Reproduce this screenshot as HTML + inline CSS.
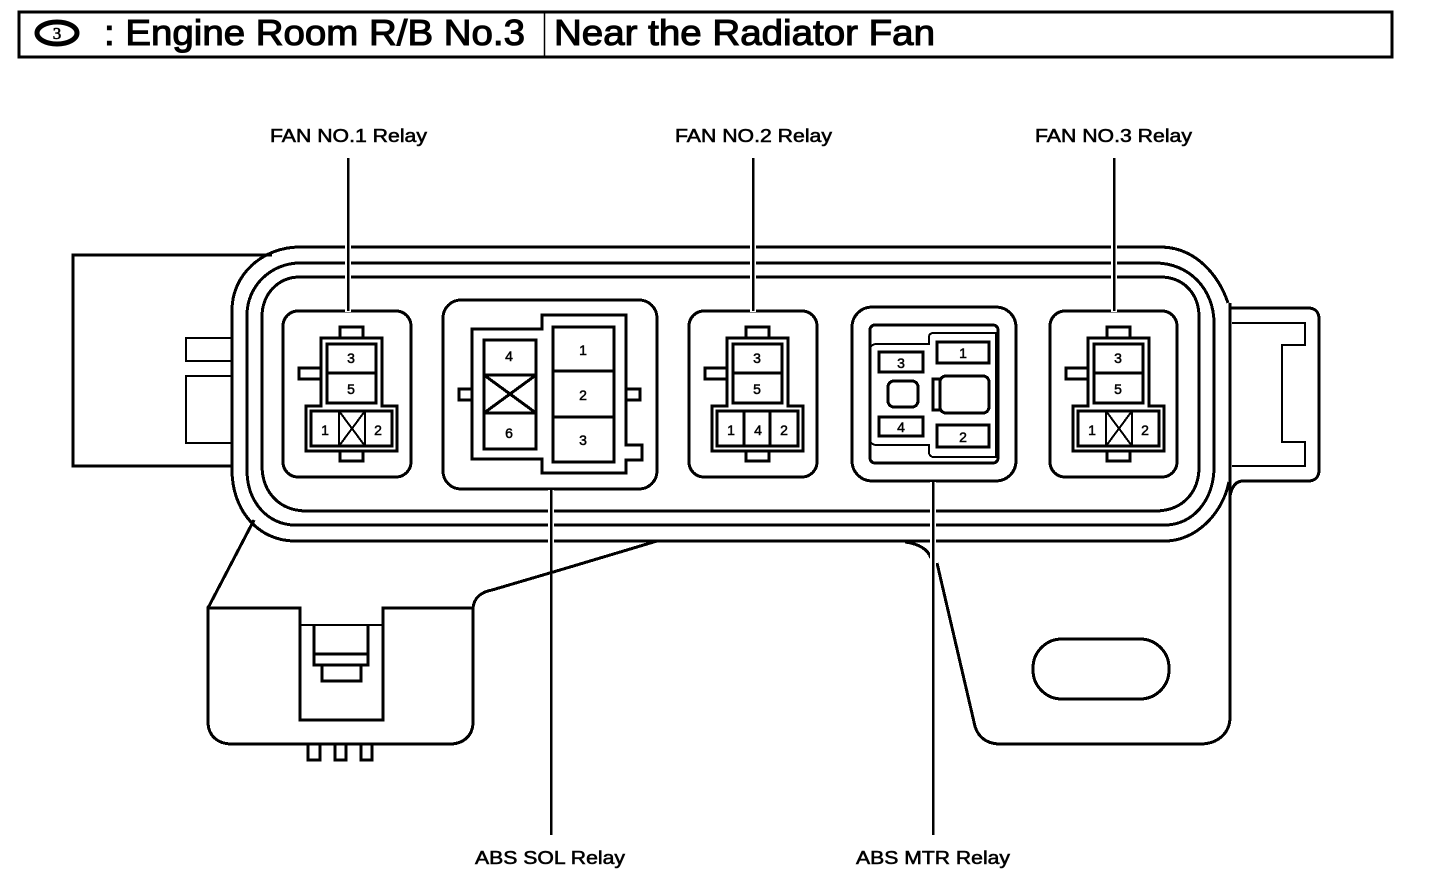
<!DOCTYPE html>
<html>
<head>
<meta charset="utf-8">
<style>
html,body{margin:0;padding:0;background:#fff;width:1440px;height:888px;overflow:hidden}
svg{display:block}
text{font-family:"Liberation Sans",sans-serif;fill:#000}
.l{font-size:18px;stroke:#000;stroke-width:.55}
.n{font-size:14px;text-anchor:middle;stroke:#000;stroke-width:.5}
.h{font-size:36px;stroke:#000;stroke-width:1.1}
.g{fill:none;stroke:#000;stroke-width:3;shape-rendering:crispEdges}
.t{fill:none;stroke:#000;stroke-width:2;shape-rendering:crispEdges}
</style>
</head>
<body>
<svg width="1440" height="888" viewBox="0 0 1440 888" xmlns="http://www.w3.org/2000/svg">
<!-- Header -->
<rect x="19" y="12" width="1373" height="45" fill="none" stroke="#000" stroke-width="3"/>
<line x1="544.5" y1="12" x2="544.5" y2="57" stroke="#000" stroke-width="1.5"/>
<ellipse cx="57" cy="33" rx="20" ry="11" fill="none" stroke="#000" stroke-width="5"/>
<text x="57" y="39" font-size="17" text-anchor="middle" stroke="#000" stroke-width=".6" style="font-family:'Liberation Serif',serif">3</text>
<text class="h" x="104" y="45" textLength="421" lengthAdjust="spacingAndGlyphs">: Engine Room R/B No.3</text>
<text class="h" x="554" y="45" textLength="381" lengthAdjust="spacingAndGlyphs">Near the Radiator Fan</text>

<!-- Left block and tabs -->
<path class="g" d="M272 255H73V466H232"/>
<path class="t" d="M232 338H186V361H232M232 376H186V443H232"/>

<!-- Body contours -->
<path class="g" d="M1228 303C1219 276 1196 247 1160 247H300C262 247 232 275 232 310V470C232 510 258 541 295 541H1165C1195 541 1222 515 1229 482"/>
<path class="g" d="M300 263C271 263 247 286 247 315V470C247 502 268 525 295 525H1165C1193 525 1214 500 1214 467V323C1214 290 1190 263 1155 263Z"/>
<path class="g" d="M300 277C278 277 262 294 262 317V465C262 493 280 511 307 511H1155C1182 511 1199 493 1199 467V317C1199 294 1184 277 1160 277Z"/>

<!-- Right bracket -->
<path class="g" d="M1230 303V717C1230 733 1218 744 1200 744H1000C985 744 976 735 974 722L937 563"/>
<path class="g" d="M905 542C920 544 928 550 931 558"/>
<rect class="g" x="1033" y="639" width="136" height="60" rx="29" ry="29"/>

<!-- Right tab -->
<path class="g" d="M1230 308H1308C1315 308 1319 312 1319 319V470C1319 477 1315 481 1308 481H1243C1236 481 1232 486 1230 496"/>
<path class="t" d="M1232 323H1305V345H1282V442H1305V466H1232"/>

<!-- Lower left connector -->
<path class="g" d="M254 520L208 608"/>
<path class="g" d="M208 608H300V720H383V608H473V722C473 736 463 744 450 744H232C217 744 208 735 208 722Z"/>
<path class="g" d="M473 608C474 598 481 592 492 590L560 570L657 541"/>
<path class="t" d="M300 625H383"/>
<path class="g" d="M314 625V665H368V625M314 654H368M322 665V681H361V665"/>
<path class="g" d="M308 745V760H320V745M335 745V760H346V745M361 745V760H372V745"/>

<!-- FAN NO.1 -->
<rect class="g" x="283" y="311" width="128" height="166" rx="15" ry="15"/>
<g>
<path class="g" d="M340 338V327H363V338M340 451V461H363V451M321 368H299V379H321"/>
<path class="g" d="M321 406V338H382V406H397V451H306V406Z"/>
<rect class="g" x="327" y="344" width="49" height="59"/>
<line class="g" x1="327" y1="373" x2="376" y2="373"/>
<rect class="g" x="311" y="411" width="81" height="35"/>
<path class="t" d="M339 411V446M365 411V446M339 411L365 446M365 411L339 446"/>
</g>
<text class="n" x="351" y="363">3</text>
<text class="n" x="351" y="394">5</text>
<text class="n" x="325" y="435">1</text>
<text class="n" x="378" y="435">2</text>

<!-- FAN NO.2 -->
<rect class="g" x="689" y="311" width="128" height="166" rx="15" ry="15"/>
<g transform="translate(406 0)">
<path class="g" d="M340 338V327H363V338M340 451V461H363V451M321 368H299V379H321"/>
<path class="g" d="M321 406V338H382V406H397V451H306V406Z"/>
<rect class="g" x="327" y="344" width="49" height="59"/>
<line class="g" x1="327" y1="373" x2="376" y2="373"/>
<rect class="g" x="311" y="411" width="81" height="35"/>
<path class="g" d="M338 411V446M364 411V446"/>
</g>
<text class="n" x="757" y="363">3</text>
<text class="n" x="757" y="394">5</text>
<text class="n" x="731" y="435">1</text>
<text class="n" x="758" y="435">4</text>
<text class="n" x="784" y="435">2</text>

<!-- FAN NO.3 -->
<rect class="g" x="1050" y="311" width="127" height="166" rx="15" ry="15"/>
<g transform="translate(767 0)">
<path class="g" d="M340 338V327H363V338M340 451V461H363V451M321 368H299V379H321"/>
<path class="g" d="M321 406V338H382V406H397V451H306V406Z"/>
<rect class="g" x="327" y="344" width="49" height="59"/>
<line class="g" x1="327" y1="373" x2="376" y2="373"/>
<rect class="g" x="311" y="411" width="81" height="35"/>
<path class="t" d="M339 411V446M365 411V446M339 411L365 446M365 411L339 446"/>
</g>
<text class="n" x="1118" y="363">3</text>
<text class="n" x="1118" y="394">5</text>
<text class="n" x="1092" y="435">1</text>
<text class="n" x="1145" y="435">2</text>

<!-- ABS SOL -->
<rect class="g" x="443" y="300" width="214" height="189" rx="18" ry="18"/>
<path class="g" d="M472 329H542V315H626V445H642V460H626V473H542V459H472Z"/>
<path class="g" d="M472 389H459V400H472M626 389H640V400H626"/>
<rect class="g" x="484" y="340" width="52" height="109"/>
<path class="g" d="M484 375H536M484 413H536"/>
<path class="g" d="M484 375L536 413M536 375L484 413"/>
<rect class="g" x="553" y="327" width="61" height="135"/>
<path class="g" d="M553 371H614M553 417H614"/>
<text class="n" x="509" y="361">4</text>
<text class="n" x="509" y="438">6</text>
<text class="n" x="583" y="355">1</text>
<text class="n" x="583" y="400">2</text>
<text class="n" x="583" y="445">3</text>

<!-- ABS MTR -->
<rect class="g" x="852" y="307" width="164" height="174" rx="20" ry="20"/>
<rect class="g" x="870" y="325" width="128" height="138" rx="5" ry="5"/>
<path class="t" d="M870 350C870 346 873 344 877 344H929V337C929 334 931 333 934 333H996V457H934C931 457 929 455 929 452V445H877C873 445 870 443 870 439"/>
<rect class="g" x="937" y="342" width="52" height="21"/>
<rect class="g" x="879" y="352" width="44" height="20"/>
<rect class="g" x="879" y="417" width="44" height="19"/>
<rect class="g" x="937" y="425" width="52" height="22"/>
<rect class="g" x="888" y="381" width="30" height="26" rx="6" ry="6"/>
<rect class="g" x="940" y="376" width="49" height="37" rx="6" ry="6"/>
<path class="g" d="M940 379H933V410H940"/>
<text class="n" x="901" y="368">3</text>
<text class="n" x="963" y="358">1</text>
<text class="n" x="901" y="432">4</text>
<text class="n" x="963" y="442">2</text>

<!-- Leader lines -->
<g fill="none" shape-rendering="crispEdges">
<path stroke="#fff" stroke-width="6" d="M348 240V312M753 240V312M1114 240V312M551 490V560M933 482V565"/>
<path stroke="#000" stroke-width="2.5" d="M348 158V311M753 158V311M1114 158V311M551 489V835M933 481V835"/>
</g>

<!-- Labels -->
<text class="l" x="270" y="142" textLength="157" lengthAdjust="spacingAndGlyphs">FAN NO.1 Relay</text>
<text class="l" x="675" y="142" textLength="157" lengthAdjust="spacingAndGlyphs">FAN NO.2 Relay</text>
<text class="l" x="1035" y="142" textLength="157" lengthAdjust="spacingAndGlyphs">FAN NO.3 Relay</text>
<text class="l" x="475" y="864" textLength="150" lengthAdjust="spacingAndGlyphs">ABS SOL Relay</text>
<text class="l" x="856" y="864" textLength="154" lengthAdjust="spacingAndGlyphs">ABS MTR Relay</text>
</svg>
</body>
</html>
